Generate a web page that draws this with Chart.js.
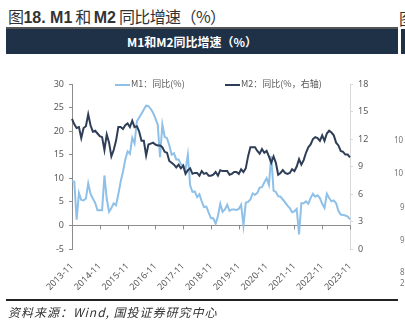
<!DOCTYPE html>
<html>
<head>
<meta charset="utf-8">
<script src="https://cdn.jsdelivr.net/npm/chart.js@4"></script>
<style>
  html, body { margin: 0; padding: 0; background: #fff; }
  body { width: 405px; height: 324px; position: relative; overflow: hidden; font-family: "Noto Sans", "Noto Sans CJK SC", sans-serif; }
  .title { position: absolute; left: 8px; top: 4px; font-size: 16px; letter-spacing: -0.6px; color: #333; white-space: nowrap; font-family: "Noto Sans CJK SC", sans-serif; }
  .title b { font-family: "Liberation Sans", Arial, sans-serif; font-weight: 700; letter-spacing: 0; }
  .rule-top { position: absolute; left: 6px; top: 27px; width: 392px; height: 2px; background: #555; }
  .banner { position: absolute; left: 6px; top: 29px; width: 392px; height: 25px; background: #1f3146; color: #fff;
            font-family: "Noto Sans CJK SC", sans-serif; font-weight: 700; font-size: 12px; line-height: 25px; }
  .banner span { position: absolute; left: 186px; transform: translateX(-50%); white-space: nowrap; }
  .banner2 { position: absolute; left: 401px; top: 29px; width: 10px; height: 25px; background: #1f3146; }
  .rule-bot { position: absolute; left: 6px; top: 299px; width: 392px; height: 2px; background: #222; }
  .source { position: absolute; left: 8px; top: 303px; font-size: 12px; font-style: italic; letter-spacing: 1px; color: #333; white-space: nowrap;
            font-family: "Noto Sans CJK SC", sans-serif; }
  #wrap { position: absolute; left: 0; top: 60px; width: 405px; height: 240px; }
  .legend { position: absolute; top: 78px; font-size: 9px; color: #595959; white-space: nowrap; line-height: 12px;
            font-family: "Noto Sans CJK SC", sans-serif; }
  .legend i { display: inline-block; width: 15px; height: 2px; vertical-align: middle; margin-right: 1px; }
  .edge { position: absolute; font-size: 8px; color: #777; font-family: "Noto Sans", sans-serif; }
</style>
</head>
<body>
<div class="title">图<b>18. M1</b> 和 <b>M2</b> 同比增速（%）</div>
<div class="edge" style="left:399px;top:6px;font-size:16px;color:#333;font-family:'Noto Sans CJK SC'">图</div>
<div class="rule-top"></div>
<div class="banner"><span>M1和M2同比增速（%）</span></div>
<div class="banner2"></div>
<div id="wrap"><canvas id="chart"></canvas></div>
<div class="legend" style="left:115px"><i style="background:#8ec0e8"></i>M1：同比(%)</div>
<div class="legend" style="left:225px"><i style="background:#2f3e57"></i>M2：同比(%，右轴)</div>
<div class="edge" style="left:394px;top:134px">10</div>
<div class="edge" style="left:394px;top:167px">10</div>
<div class="edge" style="left:400px;top:201px">9</div>
<div class="edge" style="left:400px;top:234px">9</div>
<div class="edge" style="left:400px;top:266px">8</div>
<div class="edge" style="left:400px;top:277px">2</div>
<div class="rule-bot"></div>
<div class="source">资料来源：Wind, 国投证券研究中心</div>

<script>
// monthly labels 2013-11 .. 2023-11
const months = [];
for (let y = 2013, m = 11; y < 2023 || (y === 2023 && m <= 11); m++) {
  if (m > 12) { m = 1; y++; }
  if (y === 2023 && m > 11) break;
  months.push(y + "-" + String(m).padStart(2, "0"));
}

// M1 yoy (%), left axis
const m1Yoy = [
  9.4, 9.3,
  1.2, 6.9, 5.4, 5.3, 5.7, 8.9, 6.7, 5.7, 4.8, 3.2, 3.2, 3.2,
  10.6, 5.6, 2.9, 3.7, 4.7, 4.3, 6.6, 9.3, 11.4, 14.0, 15.7, 15.2,
  18.6, 17.4, 22.1, 22.9, 23.7, 24.6, 25.4, 25.3, 24.7, 23.9, 22.7, 21.4,
  14.5, 21.4, 18.8, 18.5, 17.0, 15.0, 15.3, 14.0, 14.0, 13.0, 12.7, 11.8,
  15.0, 8.5, 7.1, 7.2, 6.0, 6.6, 5.1, 3.9, 4.0, 2.7, 1.5, 1.5,
  0.4, 2.0, 4.6, 2.9, 3.4, 4.4, 3.1, 3.4, 3.4, 3.3, 3.5, 4.4,
  0.0, 4.8, 5.0, 5.5, 6.8, 6.5, 6.9, 8.0, 8.1, 9.1, 10.0, 8.6,
  14.7, 7.4, 7.1, 6.2, 6.1, 5.5, 4.9, 4.2, 3.7, 2.8, 3.0, 3.5,
  -1.9, 4.7, 4.7, 5.1, 4.6, 5.8, 6.7, 6.1, 6.4, 5.8, 4.6, 3.7,
  6.7, 5.8, 5.1, 5.3, 4.7, 3.1, 2.3, 2.2, 2.1, 1.9, 1.3
];

// M2 yoy (%), right axis
const m2Yoy = [
  14.2, 13.6,
  13.2, 13.3, 12.1, 13.2, 13.4, 14.7, 13.5, 12.8, 12.9, 12.6, 12.3, 12.2,
  10.8, 12.5, 11.6, 10.1, 10.8, 11.8, 13.3, 13.3, 13.1, 13.5, 13.7, 13.3,
  14.0, 13.3, 13.4, 12.8, 11.8, 11.8, 10.2, 11.4, 11.5, 11.6, 11.4, 11.3,
  11.3, 11.1, 10.6, 10.5, 9.6, 9.4, 9.2, 8.9, 9.2, 8.8, 9.1, 8.2,
  8.6, 8.8, 8.2, 8.3, 8.3, 8.0, 8.5, 8.2, 8.3, 8.0, 8.0, 8.1,
  8.4, 8.0, 8.6, 8.5, 8.5, 8.5, 8.1, 8.2, 8.4, 8.4, 8.2, 8.7,
  8.4, 8.8, 10.1, 11.1, 11.1, 11.1, 10.7, 10.4, 10.9, 10.5, 10.7, 10.1,
  9.4, 10.1, 9.4, 8.1, 8.3, 8.6, 8.3, 8.2, 8.3, 8.7, 8.5, 9.0,
  9.8, 9.2, 9.7, 10.5, 11.1, 11.4, 12.0, 12.2, 12.1, 11.8, 12.4, 11.8,
  12.6, 12.9, 12.7, 12.4, 11.6, 11.3, 10.7, 10.6, 10.3, 10.3, 10.0
];

const leftTicks = { min: -5, max: 30, step: 5 };
const rightTicks = { min: 0, max: 18, step: 3 };

const tickFont = { family: "Noto Sans", size: 9 };

// short tick marks hanging below the zero line, one per year
const zeroTicks = {
  id: "zeroTicks",
  afterDatasetsDraw(chart) {
    const { ctx, scales } = chart;
    const y0 = scales.y.getPixelForValue(0);
    ctx.save();
    ctx.strokeStyle = "#8c8c8c";
    ctx.lineWidth = 1;
    ctx.beginPath();
    months.forEach((m, i) => {
      if (i % 12 !== 0) return;
      const x = Math.round(scales.x.getPixelForValue(i)) + 0.5;
      ctx.moveTo(x, y0);
      ctx.lineTo(x, y0 + 4);
    });
    ctx.stroke();
    ctx.restore();
  }
};

new Chart(document.getElementById("chart"), {
  type: "line",
  data: {
    labels: months,
    datasets: [
      {
        label: "M2：同比(%，右轴)",
        data: m2Yoy,
        yAxisID: "y2",
        borderColor: "#2f3e57",
        borderWidth: 2,
        pointRadius: 0,
        tension: 0
      },
      {
        label: "M1：同比(%)",
        data: m1Yoy,
        yAxisID: "y",
        borderColor: "#8ec0e8",
        borderWidth: 2,
        pointRadius: 0,
        tension: 0
      }
    ]
  },
  options: {
    responsive: true,
    maintainAspectRatio: false,
    animation: false,
    layout: { padding: { top: 24, left: 0, right: 0, bottom: 0 } },
    plugins: {
      legend: { display: false },
      tooltip: { enabled: false }
    },
    scales: {
      x: {
        type: "category",
        grid: { display: false },
        border: { display: false },
        afterFit: s => { s.height = 51; },
        ticks: {
          autoSkip: false,
          minRotation: 45,
          maxRotation: 45,
          padding: 4,
          color: "#595959",
          font: tickFont,
          callback: (v, i) => (i % 12 === 0 ? months[i] : null)
        }
      },
      y: {
        position: "left",
        min: leftTicks.min,
        max: leftTicks.max,
        afterFit: s => { s.width = 72; },
        border: { display: true, color: "#8c8c8c" },
        grid: {
          drawOnChartArea: true,
          color: c => (c.tick && c.tick.value === 0 ? "#8c8c8c" : "rgba(0,0,0,0)"),
          tickColor: "#8c8c8c",
          tickLength: 3
        },
        ticks: { stepSize: leftTicks.step, padding: 5, color: "#595959", font: tickFont }
      },
      y2: {
        position: "right",
        min: rightTicks.min,
        max: rightTicks.max,
        afterFit: s => { s.width = 55; },
        border: { display: true, color: "#d9d9d9" },
        grid: { drawOnChartArea: false, tickColor: "#d9d9d9", tickLength: 3 },
        ticks: { stepSize: rightTicks.step, padding: 5, color: "#595959", font: tickFont }
      }
    }
  },
  plugins: [zeroTicks]
});
</script>
</body>
</html>
